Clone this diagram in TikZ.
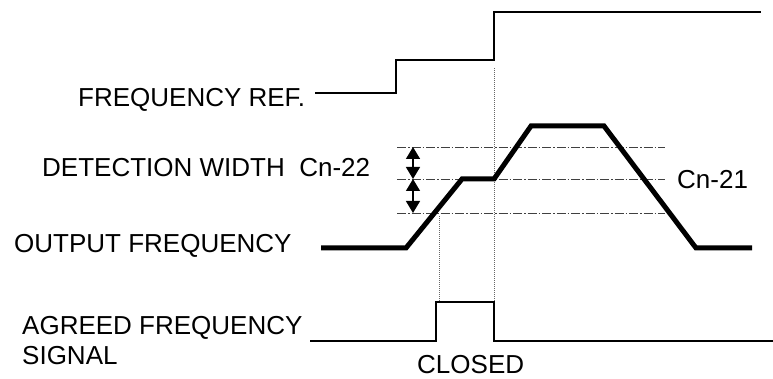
\documentclass[tikz,border=0pt]{standalone}
\usepackage{fontspec}
\setmainfont{Liberation Sans}
\usetikzlibrary{arrows.meta}
\begin{document}
\begin{tikzpicture}[x=1pt,y=-1pt,
  lbl/.style={anchor=base west,inner sep=0pt,font=\fontsize{26}{31}\selectfont},
  sig/.style={line width=1.8pt,line join=miter},
  outf/.style={line width=5pt,line join=miter},
  ref/.style={line width=0.9pt,black!75,dash pattern=on 9pt off 2pt on 1.5pt off 2pt},
  guide/.style={line width=0.7pt,black!60,dash pattern=on 1pt off 1pt},
  dim/.style={line width=1.5pt,{Triangle[width=14pt,length=12pt]}-{Triangle[width=14pt,length=12pt]}}]
\useasboundingbox (0,0) rectangle (773,379);
% labels
\node[lbl] (fref) at (78,107) {FREQUENCY REF.};
\node[lbl] (det) at (42,177) {DETECTION WIDTH\ \ Cn-22};
\node[lbl] (outl) at (14,252) {OUTPUT FREQUENCY};
\node[lbl] (agr) at (22,334) {AGREED FREQUENCY};
\node[lbl] (sigl) at (22,364) {SIGNAL};
\node[lbl] (closed) at (417,373) {CLOSED};
\node[lbl] (cn21) at (677,189) {Cn-21};
% reference levels
\coordinate (r1a) at (397,147); \coordinate (r1b) at (665,147);
\coordinate (r2a) at (397,179); \coordinate (r2b) at (665,179);
\coordinate (r3a) at (397,213); \coordinate (r3b) at (665,213);
\draw[ref] (r1a) -- (r1b);
\draw[ref] (r2a) -- (r2b);
\draw[ref] (r3a) -- (r3b);
% detection width arrows
\coordinate (d1) at (413,147); \coordinate (d2) at (413,179); \coordinate (d3) at (413,213);
\draw[dim] (d1) -- (d2);
\draw[dim] (d2) -- (d3);
% guide lines
\coordinate (g1a) at (494,68); \coordinate (g1b) at (494,302);
\coordinate (g2a) at (439,216); \coordinate (g2b) at (439,302);
\draw[guide] (g1a) -- (g1b);
\draw[guide] (g2a) -- (g2b);
% frequency reference
\coordinate (f0) at (315,93);
\draw[sig] (f0) -- (396,93) -- (396,60) -- (494,60) -- (494,12) -- (761,12);
% output frequency
\coordinate (o0) at (321,248);
\draw[outf] (o0) -- (406,248) -- (462,179) -- (494,179) -- (531,126) -- (604,126) -- (696,248) -- (752,248);
% agreed frequency signal
\coordinate (a0) at (310,341);
\draw[sig] (a0) -- (436,341) -- (436,302) -- (494,302) -- (494,341) -- (773,341);
\end{tikzpicture}
\end{document}
